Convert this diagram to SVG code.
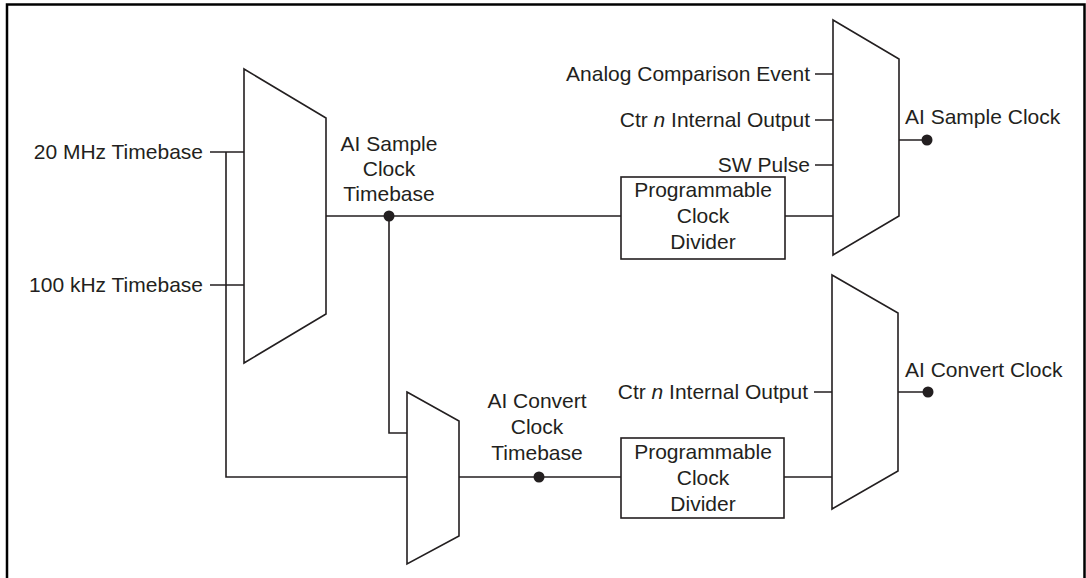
<svg xmlns="http://www.w3.org/2000/svg" width="1086" height="578" viewBox="0 0 1086 578">
<style>
.t{font-family:"Liberation Sans",Arial,sans-serif;font-size:21px;fill:#231f20}
.e{text-anchor:end}
.m{text-anchor:middle}
.s{fill:#fff;stroke:#231f20;stroke-width:1.6}
.c{fill:none;stroke:#231f20;stroke-width:1.6}
.d{fill:#231f20}
</style>
<rect width="1086" height="578" fill="#fff"/>
<path d="M7 578V4.5H1084.5V578" fill="none" stroke="#000" stroke-width="2.5"/>
<g id="connectors">
<path class="c" d="M210 152H244M210 285H244M226 152V477H407M326 216H621M389 216V433H407M459 477H621M784 477H832M785 216H833M815 74H833M815 120H833M815 165H833M899 140H927M814 392H832M898 392H928"/>
<circle class="d" cx="389" cy="216" r="5.5"/>
<circle class="d" cx="539" cy="477" r="5.5"/>
<circle class="d" cx="927" cy="140" r="5.5"/>
<circle class="d" cx="928" cy="392" r="5.5"/>
</g>
<g id="mux1"><path class="s" d="M244 69L326 118V314L244 363Z"/></g>
<g id="mux2"><path class="s" d="M833 20L899 59V216L833 255Z"/></g>
<g id="mux3"><path class="s" d="M407 392L459 421V536L407 564Z"/></g>
<g id="mux4"><path class="s" d="M832 275L898 313V471L832 509Z"/></g>
<g id="div1"><rect class="s" x="621" y="177" width="164" height="82"/>
<text class="t m" x="703" y="197">Programmable</text><text class="t m" x="703" y="223">Clock</text><text class="t m" x="703" y="249">Divider</text></g>
<g id="div2"><rect class="s" x="621" y="438" width="163" height="80"/>
<text class="t m" x="703" y="459">Programmable</text><text class="t m" x="703" y="485">Clock</text><text class="t m" x="703" y="511">Divider</text></g>
<g id="labels">
<text class="t e" x="203" y="159">20 MHz Timebase</text>
<text class="t e" x="203" y="292">100 kHz Timebase</text>
<text class="t m" x="389" y="151">AI Sample</text>
<text class="t m" x="389" y="176">Clock</text>
<text class="t m" x="389" y="201">Timebase</text>
<text class="t m" x="537" y="408">AI Convert</text>
<text class="t m" x="537" y="434">Clock</text>
<text class="t m" x="537" y="460">Timebase</text>
<text class="t e" x="810" y="81">Analog Comparison Event</text>
<text class="t e" x="810" y="127">Ctr <tspan font-style="italic">n</tspan> Internal Output</text>
<text class="t e" x="810" y="172">SW Pulse</text>
<text class="t e" x="808" y="399">Ctr <tspan font-style="italic">n</tspan> Internal Output</text>
<text class="t" x="905" y="124">AI Sample Clock</text>
<text class="t" x="905" y="377">AI Convert Clock</text>
</g>
</svg>
